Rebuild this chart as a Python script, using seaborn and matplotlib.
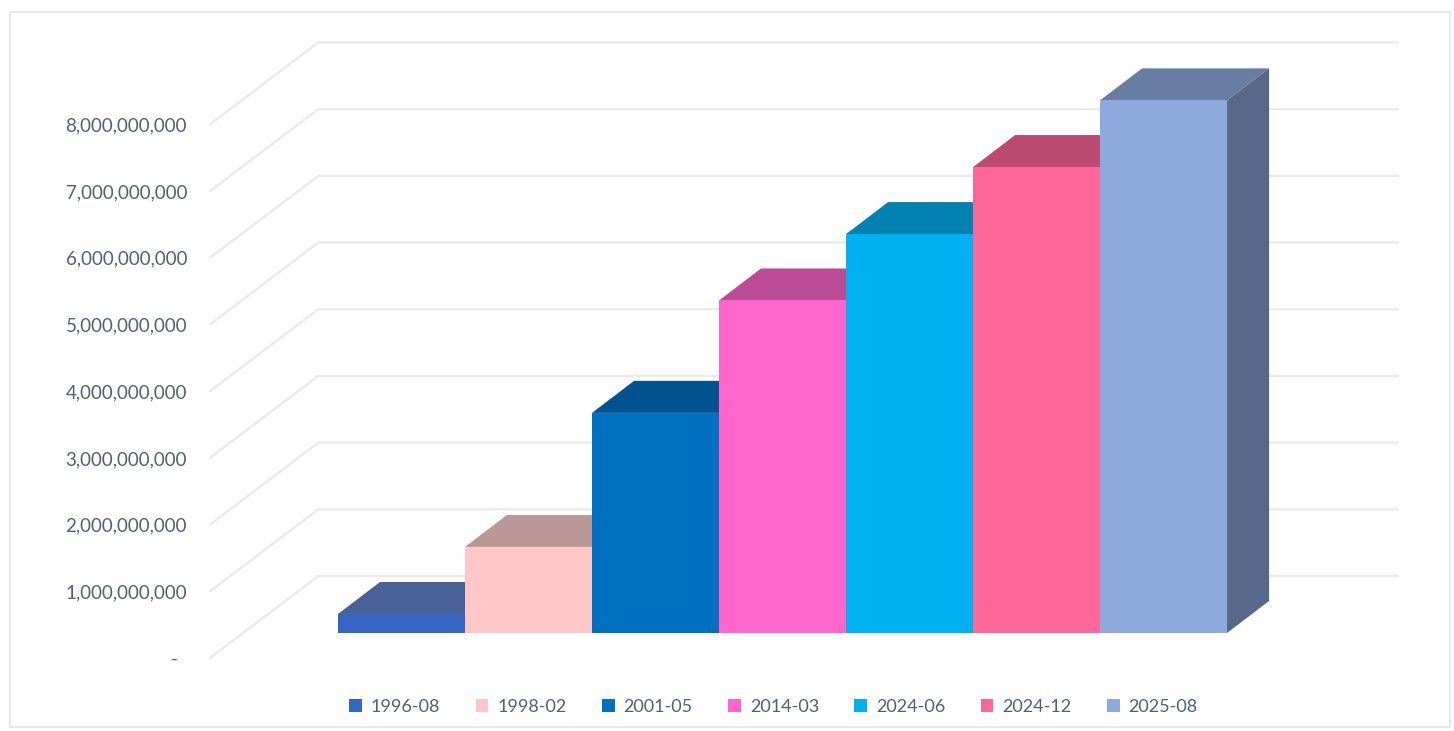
import matplotlib
matplotlib.use('Agg')
import pandas as pd
import matplotlib.pyplot as plt
import seaborn as sns
from matplotlib.patches import Polygon, Rectangle

months = ['1996-08', '1998-02', '2001-05', '2014-03', '2024-06', '2024-12', '2025-08']
values = [0.285e9, 1.29e9, 3.3e9, 4.985e9, 5.98e9, 6.985e9, 7.985e9]
tick_values = [0, 1e9, 2e9, 3e9, 4e9, 5e9, 6e9, 7e9, 8e9]
tick_labels = ['-  ', '1,000,000,000', '2,000,000,000', '3,000,000,000', '4,000,000,000',
               '5,000,000,000', '6,000,000,000', '7,000,000,000', '8,000,000,000']
front_colors = ['#3566C2', '#FFC7C7', '#0070C0', '#FF66CC', '#00B0F0', '#FF6699', '#8EA9DB']
top_colors = ['#4A6198', '#BC9797', '#00538E', '#BC4B97', '#0082B1', '#BC4B71', '#697DA2']
side_colors = ['#2A4A80', '#A88585', '#004A80', '#A84488', '#00749E', '#A84465', '#586888']

text_color = '#55606F'
grid_color = '#EAEAEA'

# 3d look: the wall sits behind the bars, these are the shifts in data units
wall_drop = 0.375e9
wall_dx = 0.853
wall_dy = 1.229e9
bar_dx = 0.331
bar_dy = 0.48e9

sns.set_theme(style='white')
plt.rcParams['font.family'] = ['Lato', 'DejaVu Sans']

W, H = 1454, 731
fig = plt.figure(figsize=(W / 100, H / 100), dpi=100)
ax = fig.add_axes([210 / W, 1 - 660 / H, (1398 - 210) / W, (660 - 42) / H])

df = pd.DataFrame({'month': months, 'value': values})
sns.barplot(data=df, x='month', y='value', hue='month', hue_order=months,
            palette=front_colors, saturation=1, width=1, gap=0, dodge=False,
            linewidth=0, zorder=3, legend=True, ax=ax)

xmin, xmax = -1.508, 7.846
ax.set_xlim(xmin, xmax)
ax.set_ylim(-0.405e9, 8.86e9)

# angled floor/wall lines
for v in tick_values:
    y0 = v - wall_drop
    ax.plot([xmin, xmin + wall_dx, xmax], [y0, y0 + wall_dy, y0 + wall_dy],
            color=grid_color, lw=1.6, zorder=1, clip_on=False)

# top and side faces of the bars
for i, v in enumerate(values):
    left, right = i - 0.5, i + 0.5
    ax.add_patch(Polygon([(left, v), (right, v), (right + bar_dx, v + bar_dy), (left + bar_dx, v + bar_dy)],
                         closed=True, fc=top_colors[i], ec='none', zorder=2))
    ax.add_patch(Polygon([(right, 0), (right + bar_dx, bar_dy), (right + bar_dx, v + bar_dy), (right, v)],
                         closed=True, fc=side_colors[i], ec='none', zorder=2))

ax.set_yticks([v - wall_drop for v in tick_values])
ax.set_yticklabels(tick_labels, fontsize=13.5, color=text_color)
ax.tick_params(axis='y', length=0, pad=16.5)
ax.set_xticks([])
ax.set_xlabel('')
ax.set_ylabel('')
sns.despine(ax=ax, left=True, bottom=True)

sns.move_legend(ax, loc='center', bbox_to_anchor=(773.5 / W, 1 - 706.5 / H),
                bbox_transform=fig.transFigure, ncol=7, frameon=False, title=None,
                fontsize=13, labelcolor=text_color, handlelength=0.7, handleheight=0.7,
                handletextpad=0.5, columnspacing=1.96)

# thin frame of the screenshot
fig.add_artist(Rectangle((10 / W, 1 - 727 / H), 1440 / W, 715 / H, transform=fig.transFigure,
                         fc='none', ec='#E8E8E8', lw=1.5))

fig.savefig('out.png', dpi=100)
